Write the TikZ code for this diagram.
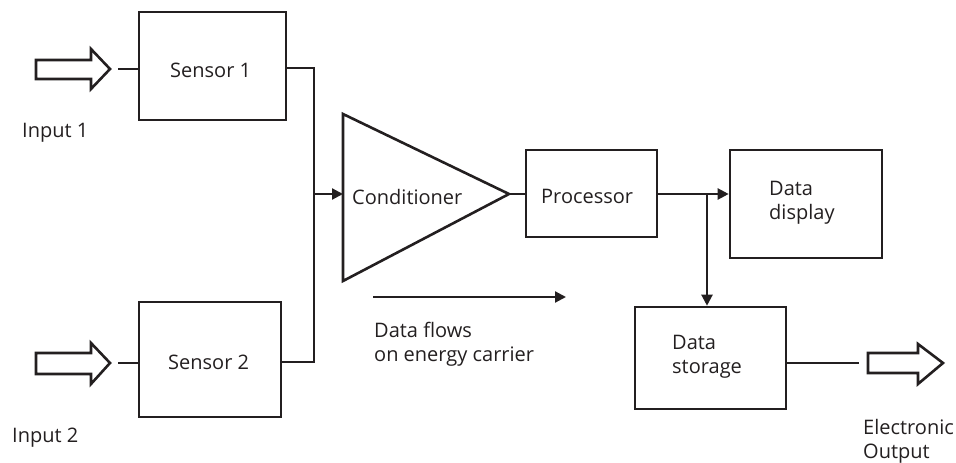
\documentclass[tikz,border=0pt]{standalone}
\usepackage{fontspec}
\setmainfont{Open Sans}
\usetikzlibrary{arrows.meta}
\definecolor{ink}{HTML}{231F20}
\begin{document}
\begin{tikzpicture}[x=1pt,y=-1pt,
  every node/.style={text=ink},
  box/.style={draw=ink,line width=2.6pt,rectangle,inner sep=0pt},
  wire/.style={draw=ink,line width=2.2pt},
  flow/.style={wire,-{Triangle[length=11pt,width=11pt]}},
  bigarrow/.style={draw=ink,line width=2.6pt,line join=miter,fill=white},
  lbl/.style={font=\fontsize{20}{24}\selectfont,inner sep=0pt,anchor=base west,align=left}]
\useasboundingbox (0,0) rectangle (956,463);

% blocks
\node[box,minimum width=147pt,minimum height=108pt] (s1) at (212.5,66) {};
\node[box,minimum width=142pt,minimum height=115pt] (s2) at (210,359.5) {};
\node[box,minimum width=131pt,minimum height=87pt] (proc) at (591.5,193.5) {};
\node[box,minimum width=152pt,minimum height=108pt] (disp) at (806,204) {};
\node[box,minimum width=151pt,minimum height=102pt] (stor) at (710.5,358) {};

% conditioner (amplifier triangle)
\coordinate (ctop) at (343,114);
\coordinate (cbot) at (343,281);
\coordinate (ctip) at (509,194);
\coordinate (cin) at (343,194);
\draw[draw=ink,line width=2.6pt,line join=miter] (ctop) -- (ctip) -- (cbot) -- cycle;

% labels (two-line labels are placed by their last baseline)
\node[lbl] (t1) at (170,77) {Sensor 1};
\node[lbl] (t2) at (168,369) {Sensor 2};
\node[lbl] (tc) at (352,204) {Conditioner};
\node[lbl] (tp) at (541,203) {Processor};
\node[lbl] (td) at (769,219) {Data\\display};
\node[lbl] (ts) at (672,373) {Data\\storage};
\node[lbl] (i1) at (22,137) {Input 1};
\node[lbl] (i2) at (12,442) {Input 2};
\node[lbl] (tf) at (374,361) {Data flows\\on energy carrier};
\node[lbl] (to) at (863,458) {Electronic\\Output};

% hollow input / output arrows
\draw[bigarrow] (36,60) -- (91,60) -- (91,49) -- (110,69) -- (91,89) -- (91,79) -- (36,79) -- cycle;
\coordinate (a1) at (118,69);
\draw[bigarrow] (36,353) -- (91,353) -- (91,343) -- (110,363) -- (91,384) -- (91,374) -- (36,374) -- cycle;
\coordinate (a2) at (118,363);
\draw[bigarrow] (868,353) -- (918,353) -- (918,344) -- (943,363) -- (918,384) -- (918,373) -- (868,373) -- cycle;
\coordinate (ao) at (859,363);

% connectors
\draw[wire] (a1) -- (a1 -| s1.west);
\draw[wire] (a2) -- (a2 -| s2.west);
\coordinate (bus) at (314,194);
\draw[wire] (s1.east |- 0,68) -| (bus);
\draw[wire] (s2.east |- 0,362) -| (bus);
\draw[flow] (bus) -- (cin);
\draw[wire] (ctip) -- (ctip -| proc.west);
\draw[flow] (proc.east |- ctip) -- (ctip -| disp.west);
\coordinate (tap) at (707,194);
\draw[flow] (tap) -- (tap |- stor.north);
\draw[wire] (stor.east |- ao) -- (ao);

% data flow direction
\coordinate (f0) at (373,297);
\coordinate (f1) at (566,297);
\draw[flow] (f0) -- (f1);
\end{tikzpicture}
\end{document}
